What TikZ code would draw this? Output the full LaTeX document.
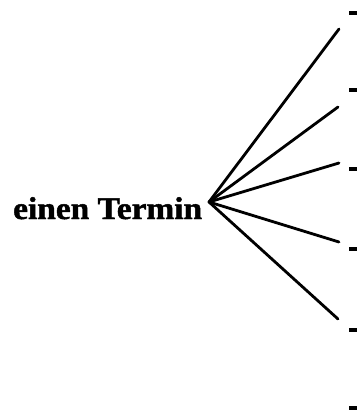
\documentclass[tikz,border=0pt]{standalone}
\usepackage{fontspec}
\newfontfamily\tfont[FakeStretch=1.06,BoldFeatures={FakeBold=1.5}]{Liberation Serif}
\begin{document}
\begin{tikzpicture}[x=1pt,y=-1pt,
  fanline/.style={line width=2.8pt,line cap=round},
  dashmark/.style={line width=3.4pt}]
\useasboundingbox (0,0) rectangle (358,414);
\node[anchor=base west,inner sep=0pt,font=\tfont\fontsize{31.5}{31.5}\selectfont\bfseries] (t) at (13,219) {einen Termin};
\coordinate (o) at (209,202);
\coordinate (e1) at (339,29);
\coordinate (e2) at (338,107);
\coordinate (e3) at (339,163);
\coordinate (e4) at (339,242);
\coordinate (e5) at (338,319);
\foreach \i in {1,...,5} \draw[fanline] (o) -- (e\i);
\foreach \y [count=\k] in {13,90,169,249,330,408} {
  \coordinate (da\k) at (349,\y);
  \coordinate (db\k) at (357,\y);
  \draw[dashmark] (da\k) -- (db\k);
}
\end{tikzpicture}
\end{document}
